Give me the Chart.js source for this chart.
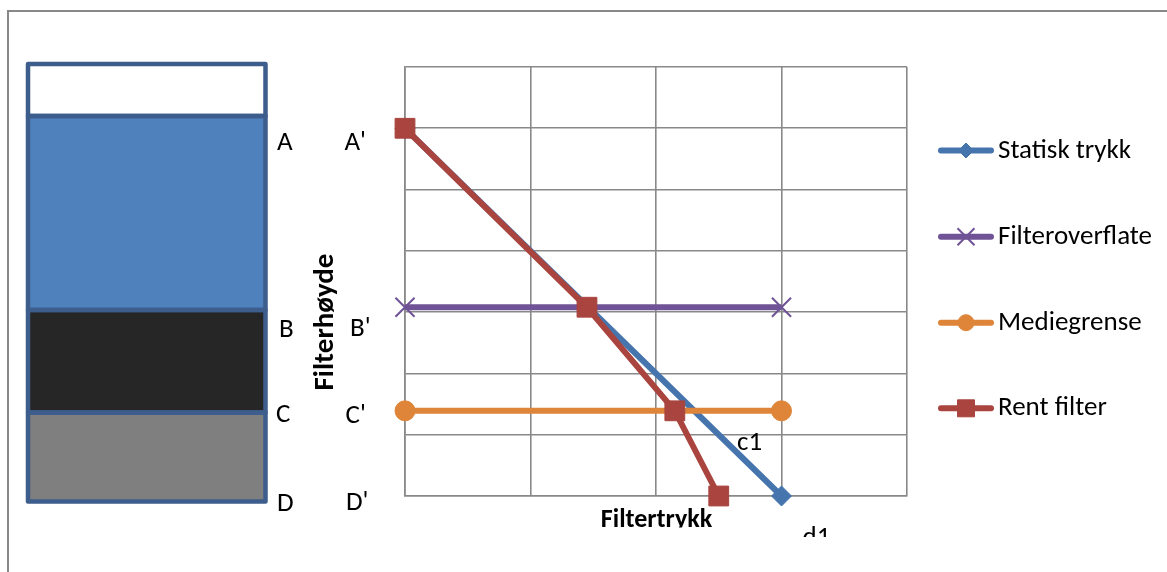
<!DOCTYPE html>
<html>
<head>
<meta charset="utf-8">
<script src="https://cdn.jsdelivr.net/npm/chart.js@4/dist/chart.umd.min.js"></script>
<style>
  html, body { margin: 0; padding: 0; background: #ffffff; }
  #wrap { width: 1167px; height: 572px; position: relative; }
</style>
</head>
<body>
<div id="wrap"><canvas id="c" width="1167" height="572"></canvas></div>
<script>
// ---- data ----
const seriesNames = ['Statisk trykk', 'Filteroverflate', 'Mediegrense', 'Rent filter'];
const statiskX = [0, 3];
const statiskY = [6, 0];
const filteroverflateX = [0, 3];
const filteroverflateY = [3.08, 3.08];
const mediegrenseX = [0, 3];
const mediegrenseY = [1.39, 1.39];
const rentFilterX = [0, 1.45, 2.15, 2.5];
const rentFilterY = [6, 3.08, 1.39, 0];
const xAxisTitle = 'Filtertrykk';
const yAxisTitle = 'Filterhøyde';
const leftLabels = ['A', 'B', 'C', 'D'];
const rightLabels = ["A'", "B'", "C'", "D'"];
const curveLabels = ['c1', 'd1'];

const toPts = (xs, ys) => xs.map((x, i) => ({ x: x, y: ys[i] }));

const FONT = 'Carlito, Calibri, Lato, "Liberation Sans", sans-serif';

const styles = [
  { color: '#4674ad', pointStyle: 'rectRot', radius: 10, legendRadius: 7.5, pbw: 1 },
  { color: '#6f5396', pointStyle: 'crossRot', radius: 13.5, legendRadius: 12, pbw: 2 },
  { color: '#de8539', pointStyle: 'circle', radius: 10, legendRadius: 8, pbw: 1 },
  { color: '#a9443f', pointStyle: 'rect', radius: 14, legendRadius: 12, pbw: 1 }
];
const seriesData = [
  toPts(statiskX, statiskY),
  toPts(filteroverflateX, filteroverflateY),
  toPts(mediegrenseX, mediegrenseY),
  toPts(rentFilterX, rentFilterY)
];

const datasets = seriesNames.map((name, i) => ({
  label: name,
  data: seriesData[i],
  borderColor: styles[i].color,
  backgroundColor: styles[i].color,
  pointBackgroundColor: styles[i].color,
  pointBorderColor: styles[i].color,
  pointBorderWidth: styles[i].pbw,
  pointStyle: styles[i].pointStyle,
  pointRadius: styles[i].radius,
  pointHoverRadius: styles[i].radius,
  borderWidth: 6,
  showLine: true,
  fill: false,
  tension: 0,
  clip: false,
  order: 3 - i
}));

const decor = {
  id: 'decor',
  beforeDraw(chart) {
    const ctx = chart.ctx;
    ctx.save();
    // outer frame
    ctx.strokeStyle = '#888888';
    ctx.lineWidth = 2;
    ctx.beginPath();
    ctx.moveTo(8, 572);
    ctx.lineTo(8, 11);
    ctx.lineTo(1167, 11);
    ctx.stroke();
    // filter column diagram
    const segs = [
      [64, 116, '#ffffff'],
      [116, 310, '#4f81bd'],
      [310, 412.5, '#262626'],
      [412.5, 501.5, '#7f7f7f']
    ];
    segs.forEach(s => {
      ctx.fillStyle = s[2];
      ctx.fillRect(28, s[0], 237.5, s[1] - s[0]);
    });
    ctx.strokeStyle = '#3d5e8c';
    ctx.lineWidth = 4.5;
    ctx.lineJoin = 'round';
    segs.forEach(s => {
      ctx.strokeRect(28, s[0], 237.5, s[1] - s[0]);
    });
    ctx.restore();
  },
  afterDraw(chart) {
    const ctx = chart.ctx;
    ctx.save();
    ctx.fillStyle = '#000000';
    ctx.font = '27px ' + FONT;
    ctx.textBaseline = 'alphabetic';
    ctx.textAlign = 'left';
    const lpos = [[277, 149.5], [279, 336.5], [276, 422], [277, 510.5]];
    const rpos = [[344.5, 149.5], [350, 335.5], [345.5, 422.5], [346, 510]];
    leftLabels.forEach((t, i) => ctx.fillText(t, lpos[i][0], lpos[i][1]));
    rightLabels.forEach((t, i) => ctx.fillText(t, rpos[i][0], rpos[i][1]));
    ctx.fillText(curveLabels[0], 737, 450);
    // clipped bottom label
    ctx.save();
    ctx.beginPath();
    ctx.rect(0, 0, 1167, 537);
    ctx.clip();
    ctx.fillText(curveLabels[1], 802.5, 545);
    ctx.restore();

    // axis titles
    ctx.textAlign = 'center';
    ctx.save();
    ctx.font = 'bold 26px ' + FONT;
    ctx.beginPath();
    ctx.rect(0, 0, 1167, 527.5);
    ctx.clip();
    ctx.fillText(xAxisTitle, 656.5, 526.5);
    ctx.restore();
    ctx.save();
    ctx.font = 'bold 29px ' + FONT;
    ctx.translate(333, 322);
    ctx.rotate(-Math.PI / 2);
    ctx.fillText(yAxisTitle, 0, 0);
    ctx.restore();

    // legend
    const ly = [150.5, 236.7, 322.7, 408.3];
    chart.data.datasets.forEach((ds, i) => {
      const y = ly[i];
      ctx.strokeStyle = ds.borderColor;
      ctx.lineWidth = 6;
      ctx.lineCap = 'round';
      ctx.beginPath();
      ctx.moveTo(941, y);
      ctx.lineTo(991, y);
      ctx.stroke();
      ctx.fillStyle = ds.borderColor;
      ctx.strokeStyle = ds.borderColor;
      ctx.lineWidth = styles[i].pbw;
      ctx.lineCap = 'butt';
      Chart.helpers.drawPoint(ctx, {
        pointStyle: ds.pointStyle,
        radius: styles[i].legendRadius,
        rotation: 0,
        borderWidth: styles[i].pbw
      }, 966, y);
      ctx.fillStyle = '#000000';
      ctx.font = '27px ' + FONT;
      ctx.textAlign = 'left';
      ctx.textBaseline = 'alphabetic';
      ctx.fillText(ds.label, 998, y + 7);
    });
    ctx.restore();
  }
};

new Chart(document.getElementById('c'), {
  type: 'scatter',
  data: { datasets: datasets },
  options: {
    responsive: false,
    animation: false,
    events: [],
    layout: { padding: { left: 405, right: 260, top: 67, bottom: 76 } },
    plugins: { legend: { display: false }, tooltip: { enabled: false } },
    scales: {
      x: {
        type: 'linear', min: 0, max: 4,
        ticks: { display: false, stepSize: 1 },
        grid: { color: '#898989', lineWidth: 1.6, drawTicks: false },
        border: { color: '#898989', width: 1.6 },
        afterFit(s) { s.height = 0; }
      },
      y: {
        type: 'linear', min: 0, max: 7,
        ticks: { display: false, stepSize: 1 },
        grid: { color: '#898989', lineWidth: 1.6, drawTicks: false },
        border: { color: '#898989', width: 1.6 },
        afterFit(s) { s.width = 0; }
      }
    }
  },
  plugins: [decor]
});
</script>
</body>
</html>
